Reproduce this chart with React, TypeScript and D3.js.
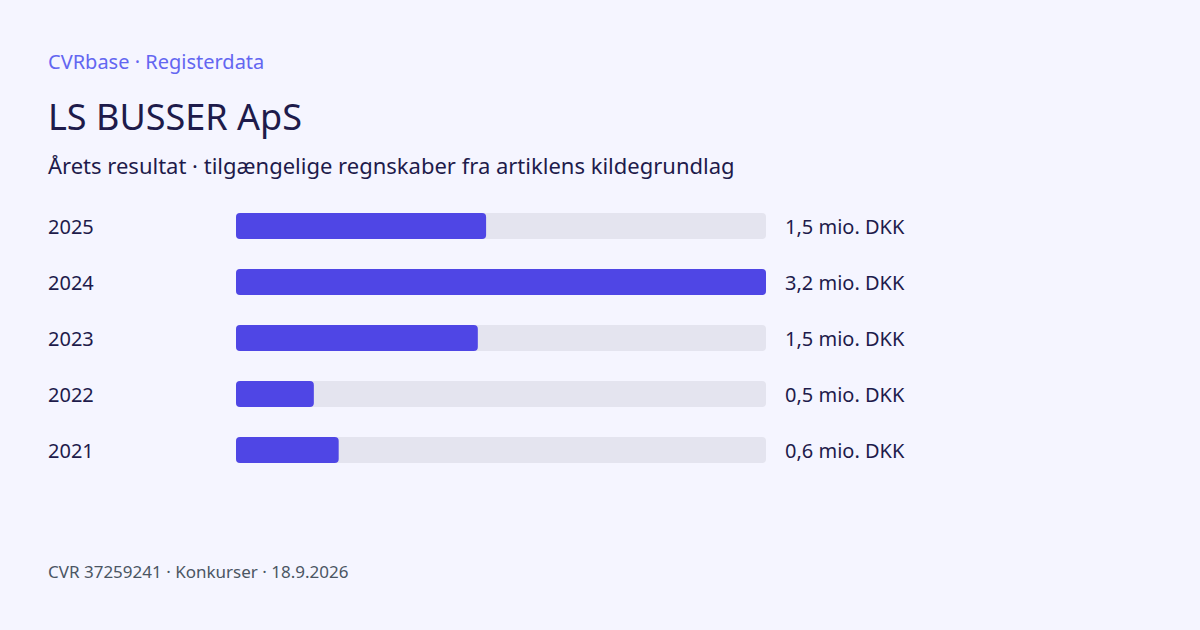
import * as React from 'react';
import * as d3 from 'd3';

const years = ['2025', '2024', '2023', '2022', '2021'];
const results = [1.51, 3.2, 1.46, 0.47, 0.62];
const valueLabels = ['1,5 mio. DKK', '3,2 mio. DKK', '1,5 mio. DKK', '0,5 mio. DKK', '0,6 mio. DKK'];

const W = 1200;
const H = 630;
const font = '"Noto Sans", sans-serif';

const trackLeft = 236;
const trackRight = 766;
const rowTop = 213;
const rowStep = 56;
const barHeight = 26;

export default function App() {
    const x = d3.scaleLinear()
        .domain([0, d3.max(results) || 0])
        .range([trackLeft, trackRight]);

    const y = d3.scaleBand<string>()
        .domain(years)
        .range([rowTop, rowTop + rowStep * years.length])
        .paddingInner(0)
        .paddingOuter(0);

    return (
        <svg width={W} height={H} style={{ position: 'absolute', left: 0, top: 0 }} fontFamily={font}>
            <rect width={W} height={H} fill="#f5f5ff" />
            <text x={48} y={69} fontSize={20} fill="#6366f1">CVRbase · Registerdata</text>
            <text x={48} y={130} fontSize={36} fill="#1e1b4b">LS BUSSER ApS</text>
            <text x={48} y={174} fontSize={22} fill="#1e1b4b">Årets resultat · tilgængelige regnskaber fra artiklens kildegrundlag</text>

            {years.map((yr, i) => {
                const top = y(yr) || 0;
                const baseline = top + barHeight / 2 + 8;
                return (
                    <g key={yr}>
                        <text x={48} y={baseline} fontSize={20} fill="#1e1b4b">{yr}</text>
                        <rect x={trackLeft} y={top} width={trackRight - trackLeft} height={barHeight} rx={4} fill="#e4e4ef" />
                        <rect x={trackLeft} y={top} width={x(results[i]) - trackLeft} height={barHeight} rx={4} fill="#4f46e5" />
                        <text x={trackRight + 19} y={baseline} fontSize={20} fill="#1e1b4b">{valueLabels[i]}</text>
                    </g>
                );
            })}

            <text x={48} y={578} fontSize={17} fill="#4b5563">CVR 37259241 · Konkurser · 18.9.2026</text>
        </svg>
    );
}
